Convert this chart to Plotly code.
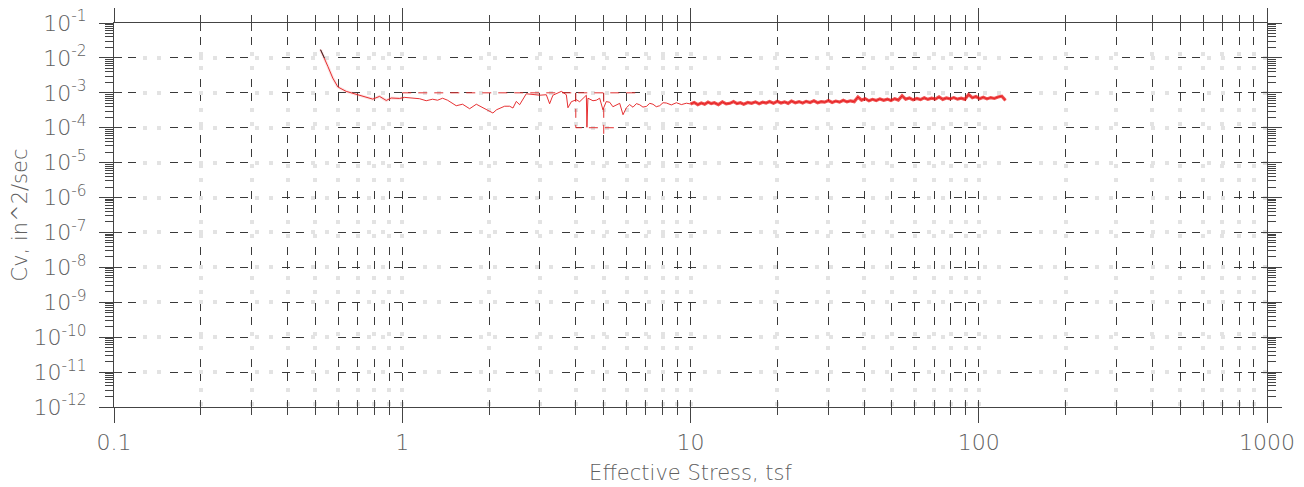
import plotly.graph_objects as go

# ---------------- data ----------------
stress_early = [0.5205, 0.5374, 0.552, 0.574, 0.598, 0.639, 0.701, 0.750, 0.790,
                0.834, 0.880, 0.916, 0.979, 1.018]
cv_early = [1.72e-2, 9.9e-3, 5.7e-3, 2.65e-3, 1.47e-3, 1.10e-3, 8.8e-4, 7.6e-4, 6.6e-4,
            7.9e-4, 6.05e-4, 7.1e-4, 6.9e-4, 7.4e-4]

stress_mid = [1.086, 1.148, 1.211, 1.274, 1.326, 1.380, 1.436, 1.539, 1.619, 1.713,
              1.807, 1.899, 2.009, 2.063, 2.125, 2.265, 2.358, 2.421, 2.487, 2.554,
              2.694, 2.841, 2.997, 3.161, 3.245, 3.332, 3.564, 3.709, 3.757, 3.860,
              4.018, 4.125, 4.352, 4.372, 4.407, 4.587, 4.714, 4.840, 4.969, 5.10,
              5.243, 5.38, 5.532, 5.68, 5.833, 5.993, 6.15, 6.316, 6.49, 6.662,
              6.84, 7.031, 7.22, 7.410, 7.61, 7.818, 8.03, 8.249, 8.58, 8.935,
              9.30, 9.68]
cv_mid = [7.0e-4, 6.78e-4, 5.94e-4, 6.56e-4, 6.14e-4, 7.0e-4, 6.14e-4, 4.27e-4, 4.71e-4, 3.50e-4,
          4.71e-4, 3.74e-4, 2.87e-4, 2.64e-4, 3.28e-4, 4.13e-4, 4.13e-4, 3.67e-4, 5.67e-4, 4.56e-4,
          9.4e-4, 9.1e-4, 8.53e-4, 8.82e-4, 4.87e-4, 8.53e-4, 1.10e-3, 8.82e-4, 3.74e-4, 5.56e-4,
          6.34e-4, 5.56e-4, 8.53e-4, 1.03e-4, 7.0e-4, 5.94e-4, 6.14e-4, 7.0e-4, 3.28e-4, 5.6e-4,
          5.38e-4, 4.0e-4, 4.41e-4, 5.0e-4, 2.36e-4, 3.74e-4, 4.6e-4, 3.87e-4, 4.9e-4, 4.56e-4,
          3.9e-4, 4.08e-4, 5.0e-4, 4.71e-4, 4.0e-4, 4.27e-4, 5.2e-4, 5.10e-4, 4.5e-4, 5.20e-4,
          4.6e-4, 5.04e-4]

stress_late = [10.0, 10.3, 10.6, 10.9, 11.2, 11.5, 11.8, 12.1, 12.5, 12.9,
               13.3, 13.7, 14.1, 14.5, 14.9, 15.3, 15.8, 16.3, 16.8, 17.3,
               17.8, 18.3, 18.8, 19.4, 20.0, 20.6, 21.2, 21.8, 22.4, 23.1,
               23.8, 24.5, 25.2, 26.0, 26.8, 27.6, 28.4, 29.2, 30.1, 31.0,
               31.9, 32.9, 33.9, 34.9, 35.9, 37.0, 38.1, 39.2, 40.4, 41.6,
               42.8, 44.1, 45.4, 46.8, 48.2, 49.6, 51.1, 52.6, 54.2, 55.8,
               57.5, 59.2, 61.0, 62.8, 64.7, 66.6, 68.6, 70.7, 72.8, 75.0,
               77.2, 79.5, 81.9, 84.4, 86.9, 89.5, 92.2, 95.0, 97.8, 100.7,
               103.7, 106.8, 110.0, 113.3, 116.7, 120.2, 123.8]
cv_late_e4 = [4.8, 5.3, 4.6, 5.1, 4.7, 5.4, 4.9, 5.2, 4.6, 5.5,
              4.8, 5.0, 5.6, 4.9, 5.2, 4.7, 5.3, 5.0, 5.5, 4.9,
              5.4, 5.1, 5.6, 5.0, 5.7, 5.1, 5.5, 5.0, 5.8, 5.2,
              5.6, 5.1, 5.7, 5.3, 5.9, 5.2, 5.6, 5.4, 6.0, 5.3,
              5.8, 5.4, 6.1, 5.5, 5.9, 5.6, 7.6, 6.2, 6.8, 5.9,
              6.5, 6.0, 6.7, 6.1, 6.6, 6.0, 6.8, 6.2, 8.2, 6.6,
              7.1, 6.3, 6.9, 6.4, 7.2, 6.5, 7.0, 6.6, 7.6, 6.5,
              7.1, 6.7, 7.3, 6.6, 7.0, 6.5, 8.9, 7.2, 7.8, 6.8,
              7.5, 6.7, 7.3, 6.9, 7.6, 8.0, 6.1]

# red dashed segments that appear over the grid in the reference
hl_stress = [1.0, 6.5, None, 4.0, 4.0, 5.45, None, 5.0, 5.0]
hl_cv = [1e-3, 1e-3, None, 1e-3, 1e-4, 1e-4, None, 1e-3, 4.5e-5]

# axes
x_decades = [0.1, 1, 10, 100, 1000]
x_labels = ["0.1", "1", "10", "100", "1000"]
mantissas = [2, 3, 4, 5, 6, 7, 8, 9]
y_exponents = [-12, -11, -10, -9, -8, -7, -6, -5, -4, -3, -2, -1]

x_minor = [m * d for d in x_decades[:-1] for m in mantissas]
y_decades = [10.0 ** e for e in y_exponents]
y_labels = ["10<sup>%d</sup>" % e for e in y_exponents]
y_minor = [m * d for d in y_decades[:-1] for m in mantissas]

cv_late = [v * 1e-4 for v in cv_late_e4]
stress_all = stress_early + stress_mid + stress_late
cv_all = cv_early + cv_mid + cv_late

# ---------------- styling ----------------
DARK_DASH = "8px,6px,8px,34px"
GRAY_DOT = "0px,29px,4px,10px,4px,9px"
GRID_DARK = "#3a3a3a"
GRID_GRAY = "#e3e3e3"
AX = "#444444"
FONT = dict(family="'DejaVu Sans', sans-serif", size=22, color="#606060", weight=200)
TITLE_FONT = dict(family="'DejaVu Sans', sans-serif", size=21, color="#606060", weight=200)

fig = go.Figure()

# empty trace to create the overlay subplot used for the second grid/tick set
fig.add_trace(go.Scatter(x=[], y=[], xaxis="x2", yaxis="y2", hoverinfo="skip", showlegend=False))

# faint pink halo on early curve
fig.add_trace(go.Scatter(x=stress_early, y=cv_early, mode="lines",
                         line=dict(color="rgba(240,150,150,0.25)", width=3), hoverinfo="skip"))
# highlighted grid segments
fig.add_trace(go.Scatter(x=hl_stress, y=hl_cv, mode="lines",
                         line=dict(color="#e03030", width=1, dash="9px,7px"), hoverinfo="skip"))
# dense band halo
fig.add_trace(go.Scatter(x=stress_late, y=cv_late, mode="lines",
                         line=dict(color="rgba(235,20,20,0.75)", width=3.2), hoverinfo="skip"))
# main curve
fig.add_trace(go.Scatter(x=stress_all, y=cv_all, mode="lines",
                         line=dict(color="#e31a1c", width=0.9)))
# dark start segment
fig.add_trace(go.Scatter(x=stress_early[:2], y=cv_early[:2], mode="lines",
                         line=dict(color="#333333", width=1), hoverinfo="skip"))

# the page body adds an 8px offset, so the figure is sized to fit the window
fig.update_layout(
    width=1296, height=479,
    margin=dict(l=106, r=37, t=15, b=80, autoexpand=False),
    plot_bgcolor="white", paper_bgcolor="white",
    showlegend=False,
    xaxis=dict(
        type="log", range=[-1, 3], automargin=False, ticklabeloverflow="allow",
        tickmode="array", tickvals=x_decades, ticktext=x_labels,
        ticks="outside", ticklen=15, tickwidth=1, tickcolor=AX,
        showline=True, linecolor=AX, linewidth=1, mirror="ticks",
        showgrid=True, gridcolor=GRID_DARK, gridwidth=1, griddash=DARK_DASH,
        zeroline=False, tickfont=FONT, ticklabelstandoff=1,
        minor=dict(tickmode="array", tickvals=x_minor, ticks="outside", ticklen=7,
                   tickcolor=AX, tickwidth=1,
                   showgrid=True, gridcolor=GRID_DARK, gridwidth=1, griddash=DARK_DASH),
        title=dict(text="Effective Stress, tsf", font=TITLE_FONT, standoff=10),
    ),
    yaxis=dict(
        type="log", range=[-12, -1], automargin=False, ticklabeloverflow="allow",
        tickmode="array", tickvals=y_decades, ticktext=y_labels,
        ticks="outside", ticklen=14, tickwidth=1, tickcolor=AX,
        showline=True, linecolor=AX, linewidth=1, mirror="ticks",
        showgrid=True, gridcolor=GRID_DARK, gridwidth=1, griddash=DARK_DASH,
        zeroline=False, tickfont=FONT, ticklabelstandoff=8,
        minor=dict(tickmode="array", tickvals=y_minor, ticks="outside", ticklen=8,
                   tickcolor=AX, tickwidth=1, showgrid=False),
        title=dict(text="Cv, in^2/sec", font=TITLE_FONT, standoff=10),
    ),
    xaxis2=dict(
        type="log", range=[-1, 3], overlaying="x", anchor="y2", side="bottom",
        automargin=False,
        tickmode="array", tickvals=x_decades, showticklabels=False,
        ticks="inside", ticklen=7, tickcolor=AX, tickwidth=1, mirror="ticks",
        showline=False, zeroline=False,
        showgrid=True, gridcolor=GRID_GRAY, gridwidth=4, griddash=GRAY_DOT,
        minor=dict(tickmode="array", tickvals=x_minor, ticks="inside", ticklen=7,
                   tickcolor=AX, tickwidth=1,
                   showgrid=True, gridcolor=GRID_GRAY, gridwidth=4, griddash=GRAY_DOT),
    ),
    yaxis2=dict(
        type="log", range=[-12, -1], overlaying="y", anchor="x2", side="left",
        automargin=False,
        tickmode="array", tickvals=y_decades, showticklabels=False,
        ticks="inside", ticklen=6, tickcolor=AX, tickwidth=1, mirror="ticks",
        showline=False, zeroline=False,
        showgrid=True, gridcolor=GRID_GRAY, gridwidth=4, griddash=GRAY_DOT,
    ),
)

fig.write_html("out.html")
